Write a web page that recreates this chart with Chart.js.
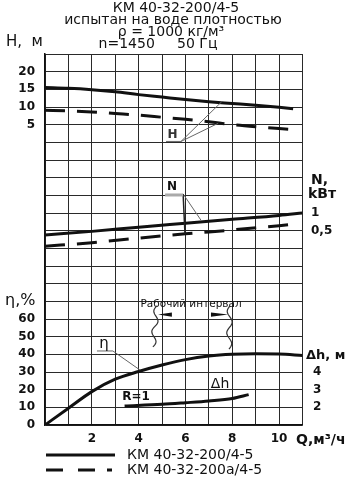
<!DOCTYPE html>
<html><head><meta charset="utf-8">
<script src="https://cdn.jsdelivr.net/npm/chart.js@4/dist/chart.umd.min.js"></script>
<style>html,body{margin:0;padding:0;background:#fff}canvas{display:block}</style>
</head><body>
<canvas id="c" width="354" height="480"></canvas>
<script>
// ---------- text ----------
const titleLines = ['КМ 40-32-200/4-5', 'испытан на воде плотностью', 'ρ = 1000 кг/м³', 'n=1450     50 Гц'];
const seriesNames = ['КМ 40-32-200/4-5', 'КМ 40-32-200а/4-5'];

// ---------- data (Q, м³/ч) ----------
const qH    = [0, 1, 2, 3, 4, 5, 6, 7, 8, 9, 10, 10.6];
const hMain = [15.5, 15.3, 14.9, 14.3, 13.5, 12.8, 12.1, 11.5, 11.0, 10.5, 9.9, 9.5];
const hAlt  = [9.1, 8.9, 8.6, 8.15, 7.7, 7.1, 6.5, 5.8, 5.0, 4.4, 3.9, 3.65];

const qN    = [0, 2, 4, 6, 8, 10, 11];
const nMain = [0.38, 0.48, 0.6, 0.71, 0.82, 0.93, 1.0];
const qNAlt = [0, 2, 4, 6, 8, 10, 10.6];
const nAlt  = [0.06, 0.16, 0.29, 0.41, 0.52, 0.64, 0.68];

const qEta    = [0, 1, 2, 3, 4, 5, 6, 7, 8, 9, 10, 11];
const etaMain = [0, 9.5, 18.9, 25.9, 30.3, 34, 37, 39, 40, 40.3, 40.2, 39.3];

const qDh    = [3.4, 5, 6, 7, 8, 8.7];
const dhMain = [2.08, 2.17, 2.26, 2.36, 2.5, 2.72];

// ---------- tick labels ----------
const qTicks   = [2, 4, 6, 8, 10];
const hTicks   = [5, 10, 15, 20];
const etaTicks = [0, 10, 20, 30, 40, 50, 60];
const nTicks   = [0.5, 1];
const dhTicks  = [2, 3, 4];

const pts = (xs, ys) => xs.map((x, i) => ({x: x, y: ys[i]}));
const F = '"DejaVu Sans", sans-serif';
const INK = '#111';

const line = (label, xs, ys, axis, dashed) => ({
  label: label, data: pts(xs, ys), yAxisID: axis,
  borderColor: INK, borderWidth: 3, borderDash: dashed ? [20, 12] : [],
  pointRadius: 0, fill: false, cubicInterpolationMode: 'monotone', borderCapStyle: 'butt'
});

function wavy(ctx, x1, y1, x2, y2) {
  const n = 30, len = Math.hypot(x2 - x1, y2 - y1);
  const nx = -(y2 - y1) / len, ny = (x2 - x1) / len;
  ctx.beginPath();
  for (let i = 0; i <= n; i++) {
    const t = i / n;
    const a = 2.6 * Math.sin(t * Math.PI * 4);
    const x = x1 + (x2 - x1) * t + nx * a, y = y1 + (y2 - y1) * t + ny * a;
    if (i === 0) ctx.moveTo(x, y); else ctx.lineTo(x, y);
  }
  ctx.stroke();
}

const decor = {
  id: 'decor',
  afterDraw(chart) {
    const ctx = chart.ctx, a = chart.chartArea;
    const sx = chart.scales.x, se = chart.scales.yEta, sh = chart.scales.yH, sn = chart.scales.yN, sd = chart.scales.yDh;
    const X = q => sx.getPixelForValue(q), Y = e => se.getPixelForValue(e);
    ctx.save();
    ctx.fillStyle = INK; ctx.strokeStyle = INK;

    // titles
    ctx.textAlign = 'center'; ctx.textBaseline = 'middle';
    ctx.font = '14px ' + F;
    ctx.fillText(titleLines[0], 176, 8);
    ctx.fillText(titleLines[1], 173, 20);
    ctx.fillText(titleLines[2], 171, 32);
    ctx.fillText(titleLines[3], 158, 44);

    // axis titles
    ctx.textAlign = 'left';
    ctx.font = '15px ' + F;
    ctx.fillText('H,  м', 6, 42);
    ctx.font = '16px ' + F;
    ctx.fillText('η,%', 5, 301);
    ctx.font = 'bold 14px ' + F;
    ctx.fillText('N,', 311, 180);
    ctx.fillText('kВт', 308, 194);
    ctx.font = 'bold 13px ' + F;
    ctx.fillText('Δh, м', 306, 356);
    ctx.font = 'bold 14px ' + F;
    ctx.fillText('Q,м³/ч', 296, 440);

    // tick labels
    ctx.font = 'bold 12px ' + F;
    ctx.textAlign = 'right';
    hTicks.forEach(v => ctx.fillText(String(v), 35, sh.getPixelForValue(v)));
    etaTicks.forEach(v => ctx.fillText(String(v), 35, se.getPixelForValue(v)));
    ctx.textAlign = 'left';
    nTicks.forEach(v => ctx.fillText(String(v).replace('.', ','), 311, sn.getPixelForValue(v)));
    dhTicks.forEach(v => ctx.fillText(String(v), 313, sd.getPixelForValue(v)));
    ctx.textAlign = 'center';
    qTicks.forEach(v => ctx.fillText(String(v), X(v), a.bottom + 14));

    // annotations: thin leaders
    ctx.strokeStyle = '#666'; ctx.lineWidth = 1;
    ctx.beginPath();
    ctx.moveTo(X(5.17), Y(160.5)); ctx.lineTo(X(5.81), Y(160.5));
    ctx.lineTo(X(7.55), Y(183.0));
    ctx.moveTo(X(5.81), Y(160.5)); ctx.lineTo(X(7.40), Y(170.8));
    ctx.moveTo(X(5.90), Y(130.8)); ctx.lineTo(X(6.66), Y(116.0));
    ctx.moveTo(X(2.22), Y(41.9)); ctx.lineTo(X(2.90), Y(41.9)); ctx.lineTo(X(4.06), Y(31.1));
    ctx.stroke();
    ctx.strokeStyle = '#222'; ctx.lineWidth = 1.5;
    ctx.beginPath();
    ctx.moveTo(X(5.90), Y(130.8)); ctx.lineTo(X(5.98), Y(108.1));
    ctx.stroke();
    ctx.strokeStyle = '#aaa'; ctx.lineWidth = 3;
    ctx.beginPath(); ctx.moveTo(X(5.13), Y(130.2)); ctx.lineTo(X(5.90), Y(130.2)); ctx.stroke();

    ctx.fillStyle = '#333';
    ctx.font = 'bold 12px ' + F;
    ctx.fillText('H', X(5.45), Y(164.1));
    ctx.fillStyle = INK;
    ctx.fillText('N', X(5.43), Y(134.9));
    ctx.font = '15px ' + F;
    ctx.fillText('η', X(2.52), Y(45.8));
    ctx.font = 'bold 12px ' + F;
    ctx.fillText('R=1', X(3.89), Y(16.1));
    ctx.font = '14px ' + F;
    ctx.fillText('Δh', X(7.48), Y(23.2));
    ctx.font = '10.5px ' + F;
    ctx.fillText('Рабочий интервал', X(6.24), Y(68.2));

    // working interval arrows
    const ay = Y(62.5);
    ctx.beginPath();
    ctx.moveTo(X(4.83), ay); ctx.lineTo(X(5.42), ay - 2.2); ctx.lineTo(X(5.42), ay + 2.2); ctx.closePath();
    ctx.moveTo(X(7.82), ay); ctx.lineTo(X(7.09), ay - 2.2); ctx.lineTo(X(7.09), ay + 2.2); ctx.closePath();
    ctx.fill();
    ctx.strokeStyle = '#333'; ctx.lineWidth = 1.2;
    wavy(ctx, X(4.78), Y(67.4), X(4.61), Y(44.2));
    wavy(ctx, X(7.90), Y(67.4), X(7.86), Y(43.0));

    // legend
    ctx.strokeStyle = INK; ctx.lineWidth = 3;
    const l1 = a.bottom + 30, l2 = a.bottom + 45;
    ctx.beginPath(); ctx.moveTo(a.left + 1, l1); ctx.lineTo(a.left + 70, l1); ctx.stroke();
    ctx.setLineDash([17, 15, 17, 12, 5, 100]);
    ctx.beginPath(); ctx.moveTo(a.left + 1, l2); ctx.lineTo(a.left + 68, l2); ctx.stroke();
    ctx.setLineDash([]);
    ctx.fillStyle = INK; ctx.textAlign = 'left';
    ctx.font = '14px ' + F;
    ctx.fillText(seriesNames[0], a.left + 82, l1);
    ctx.fillText(seriesNames[1], a.left + 82, l2);
    ctx.restore();
  }
};

const hidden = (min, max) => ({type: 'linear', display: false, min: min, max: max});

new Chart(document.getElementById('c'), {
  type: 'line',
  data: {
    datasets: [
      line(seriesNames[0] + ' H', qH, hMain, 'yH', false),
      line(seriesNames[1] + ' H', qH, hAlt, 'yH', true),
      line(seriesNames[0] + ' N', qN, nMain, 'yN', false),
      line(seriesNames[1] + ' N', qNAlt, nAlt, 'yN', true),
      line('η', qEta, etaMain, 'yEta', false),
      line('Δh', qDh, dhMain, 'yDh', false)
    ]
  },
  options: {
    responsive: false, animation: false, devicePixelRatio: 1,
    layout: {padding: {left: 45, top: 54, right: 51.5, bottom: 55}},
    plugins: {legend: {display: false}, tooltip: {enabled: false}, title: {display: false}},
    scales: {
      x: {type: 'linear', min: 0, max: 11,
          ticks: {display: false, stepSize: 1, maxTicksLimit: 100},
          grid: {color: '#2a2a2a', lineWidth: 1, drawTicks: false},
          border: {display: true, color: '#111', width: 1.5}},
      yEta: {type: 'linear', position: 'left', min: 0, max: 210,
          ticks: {display: false, stepSize: 10, maxTicksLimit: 100},
          grid: {color: '#2a2a2a', lineWidth: 1, drawTicks: false},
          border: {display: true, color: '#111', width: 1.5}},
      yH: hidden(-80, 25),
      yN: hidden(-5, 5.5),
      yDh: hidden(1, 22)
    }
  },
  plugins: [decor]
});
</script>
</body></html>
